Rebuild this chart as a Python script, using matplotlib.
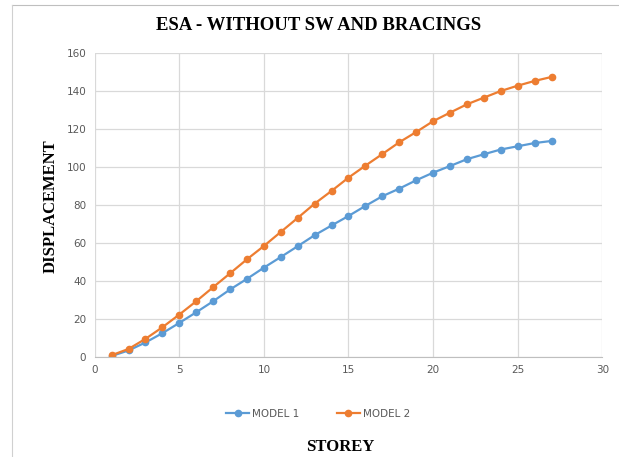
import matplotlib
matplotlib.use('Agg')
import matplotlib.pyplot as plt
from matplotlib.lines import Line2D

storey = list(range(1, 28))
model1 = [0.5, 3.4, 7.6, 12.5, 17.9, 23.5, 29.3, 35.5, 41.1, 47.0,
          52.6, 58.3, 64.1, 69.2, 74.2, 79.5, 84.6, 88.6, 93.0, 97.0,
          100.5, 104.1, 106.7, 109.2, 110.9, 112.6, 113.7]
model2 = [0.9, 4.2, 9.5, 15.6, 22.3, 29.3, 36.7, 44.0, 51.4, 58.4,
          65.8, 73.2, 80.7, 87.4, 94.4, 100.7, 106.8, 113.0, 118.4, 124.1,
          128.6, 133.0, 136.5, 140.0, 142.8, 145.3, 147.4]

fig = plt.figure(figsize=(6.19, 4.57), dpi=100)
ax = fig.add_axes([0.153, 0.219, 0.820, 0.665])

ax.plot(storey, model1, color='#5B9BD5', lw=1.6, marker='o', ms=4.5, label='MODEL 1')
ax.plot(storey, model2, color='#ED7D31', lw=1.6, marker='o', ms=4.5, label='MODEL 2')

ax.set_xlim(0, 30)
ax.set_ylim(0, 160)
ax.set_xticks(range(0, 31, 5))
ax.set_yticks(range(0, 161, 20))
ax.grid(True, color='#d9d9d9', lw=0.9)
ax.set_axisbelow(True)
for s in ['top', 'right', 'left']:
    ax.spines[s].set_visible(False)
ax.spines['bottom'].set_color('#bfbfbf')
ax.tick_params(length=0, labelsize=7.5, colors='#595959', pad=6)

fig.text(0.515, 0.945, 'ESA - WITHOUT SW AND BRACINGS', ha='center', va='center',
         family='Liberation Serif', fontweight='bold', fontsize=13.5)
fig.text(0.082, 0.55, 'DISPLACEMENT', rotation=90, ha='center', va='center',
         family='Liberation Serif', fontweight='bold', fontsize=12)
fig.text(0.55, 0.022, 'STOREY', ha='center', va='center',
         family='Liberation Serif', fontweight='bold', fontsize=12)

leg = fig.legend(loc='center', bbox_to_anchor=(0.514, 0.094), ncol=2, frameon=False,
                 fontsize=7.5, handlelength=2.2, columnspacing=3.6, handletextpad=0.3)
for t in leg.get_texts():
    t.set_color('#595959')

# frame remnants of the original sheet
fig.add_artist(Line2D([0.02, 1.0], [0.99, 0.99], color='#bfbfbf', lw=0.8))
fig.add_artist(Line2D([0.02, 0.02], [0.0, 0.99], color='#d0d0d0', lw=0.8))

plt.savefig('out.png', dpi=100)
plt.close()
